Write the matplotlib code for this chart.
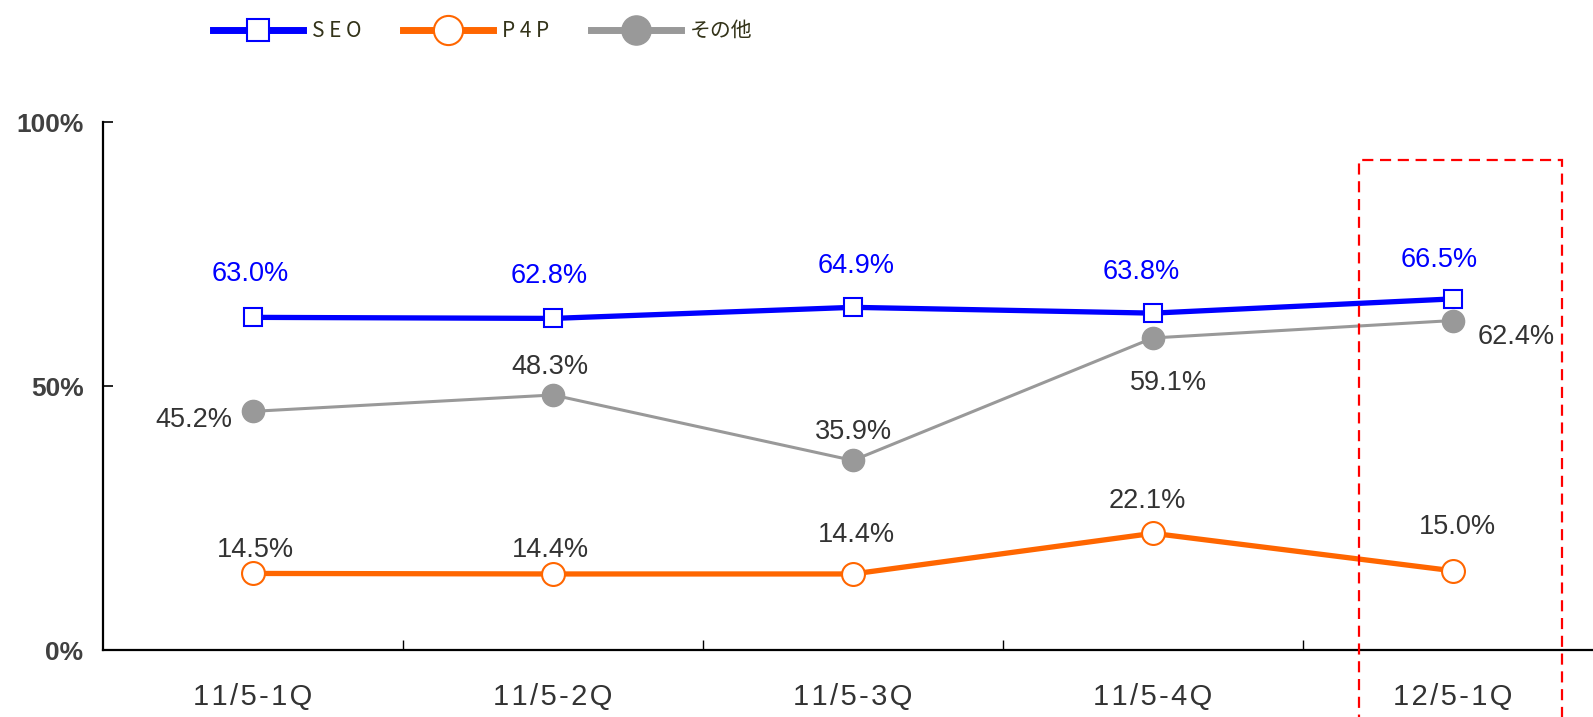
import matplotlib.pyplot as plt
from matplotlib.lines import Line2D
from matplotlib.patches import Rectangle

plt.rcParams['font.family'] = ['Liberation Sans', 'DejaVu Sans']

categories = ['11/5-1Q', '11/5-2Q', '11/5-3Q', '11/5-4Q', '12/5-1Q']
seo = [63.0, 62.8, 64.9, 63.8, 66.5]
p4p = [14.5, 14.4, 14.4, 22.1, 15.0]
other = [45.2, 48.3, 35.9, 59.1, 62.4]
series_names = ['S E O', 'P 4 P', 'その他']

# label offsets in pixels (x, y)
seo_off = [(-3, 43), (-4, 42), (3, 41), (-12, 41), (-14, 39)]
p4p_off = [(2, 23), (-3, 24), (3, 39), (-6, 32), (4, 44)]
oth_off = [(-59, -9), (-3, 28), (0, 28), (16, -45), (63, -16)]

BLUE = '#0000FF'
ORANGE = '#FF6600'
GRAY = '#999999'
TXT = '#333333'

fig = plt.figure(figsize=(15.93, 7.17), dpi=100)
ax = fig.add_axes([103 / 1593, 1 - 650 / 717, 1500 / 1593, 528 / 717])

x = list(range(len(categories)))
ax.plot(x, other, color=GRAY, lw=2.2, marker='o', ms=16, mfc=GRAY, mec=GRAY, zorder=3)
ax.plot(x, p4p, color=ORANGE, lw=3.8, marker='o', ms=16.5, mfc='white', mec=ORANGE, mew=1.5, zorder=4)
ax.plot(x, seo, color=BLUE, lw=3.8, marker='s', ms=13.5, mfc='white', mec=BLUE, mew=1.5, zorder=5)

lab_font = dict(fontsize=19.5, ha='center', va='center')
for i in x:
    ax.annotate(f'{seo[i]:.1f}%', (i, seo[i]), xytext=seo_off[i], textcoords='offset pixels',
                color=BLUE, **lab_font)
    ax.annotate(f'{p4p[i]:.1f}%', (i, p4p[i]), xytext=p4p_off[i], textcoords='offset pixels',
                color=TXT, **lab_font)
    ax.annotate(f'{other[i]:.1f}%', (i, other[i]), xytext=oth_off[i], textcoords='offset pixels',
                color=TXT, **lab_font)

ax.set_xlim(-0.5, 4.5)
ax.set_ylim(0, 100)

ax.spines['top'].set_visible(False)
ax.spines['right'].set_visible(False)
ax.spines['left'].set_linewidth(1.6)
ax.spines['bottom'].set_linewidth(1.6)

ax.set_yticks([0, 50, 100])
ax.set_yticklabels(['0%', '50%', '100%'], fontsize=19, fontweight='bold', color='#404040')
ax.tick_params(axis='y', direction='in', length=7, width=1.2, pad=14)

ax.set_xticks([0.5, 1.5, 2.5, 3.5])
ax.set_xticklabels([])
ax.tick_params(axis='x', which='major', direction='in', length=7, width=1)
sp = '\u200a'
ax.set_xticks(x, [sp.join(c) for c in categories], minor=True)
ax.tick_params(axis='x', which='minor', length=0, pad=24, labelsize=21, labelcolor=TXT)

# highlight box for latest quarter
box = Rectangle((3.687, -30), 0.676, 92.8 + 30, fill=False, edgecolor='#FF0000',
                lw=1.6, linestyle=(0, (5, 3)), clip_on=False, zorder=6)
ax.add_patch(box)

handles = [
    Line2D([], [], color=BLUE, lw=5, marker='s', ms=16, mfc='white', mec=BLUE, mew=1.5),
    Line2D([], [], color=ORANGE, lw=5, marker='o', ms=21, mfc='white', mec=ORANGE, mew=1.5),
    Line2D([], [], color=GRAY, lw=5, marker='o', ms=21, mfc=GRAY, mec=GRAY),
]
leg = fig.legend(handles, series_names, loc='center left', bbox_to_anchor=(213 / 1593, 1 - 31 / 717),
                 ncol=3, frameon=False, borderpad=0, borderaxespad=0,
                 handlelength=4.3, handletextpad=0.45, columnspacing=2.0,
                 prop={'family': ['Noto Sans CJK JP', 'DejaVu Sans'], 'size': 15})
for t in leg.get_texts():
    t.set_color('#333319')

fig.savefig('out.png', dpi=100)
